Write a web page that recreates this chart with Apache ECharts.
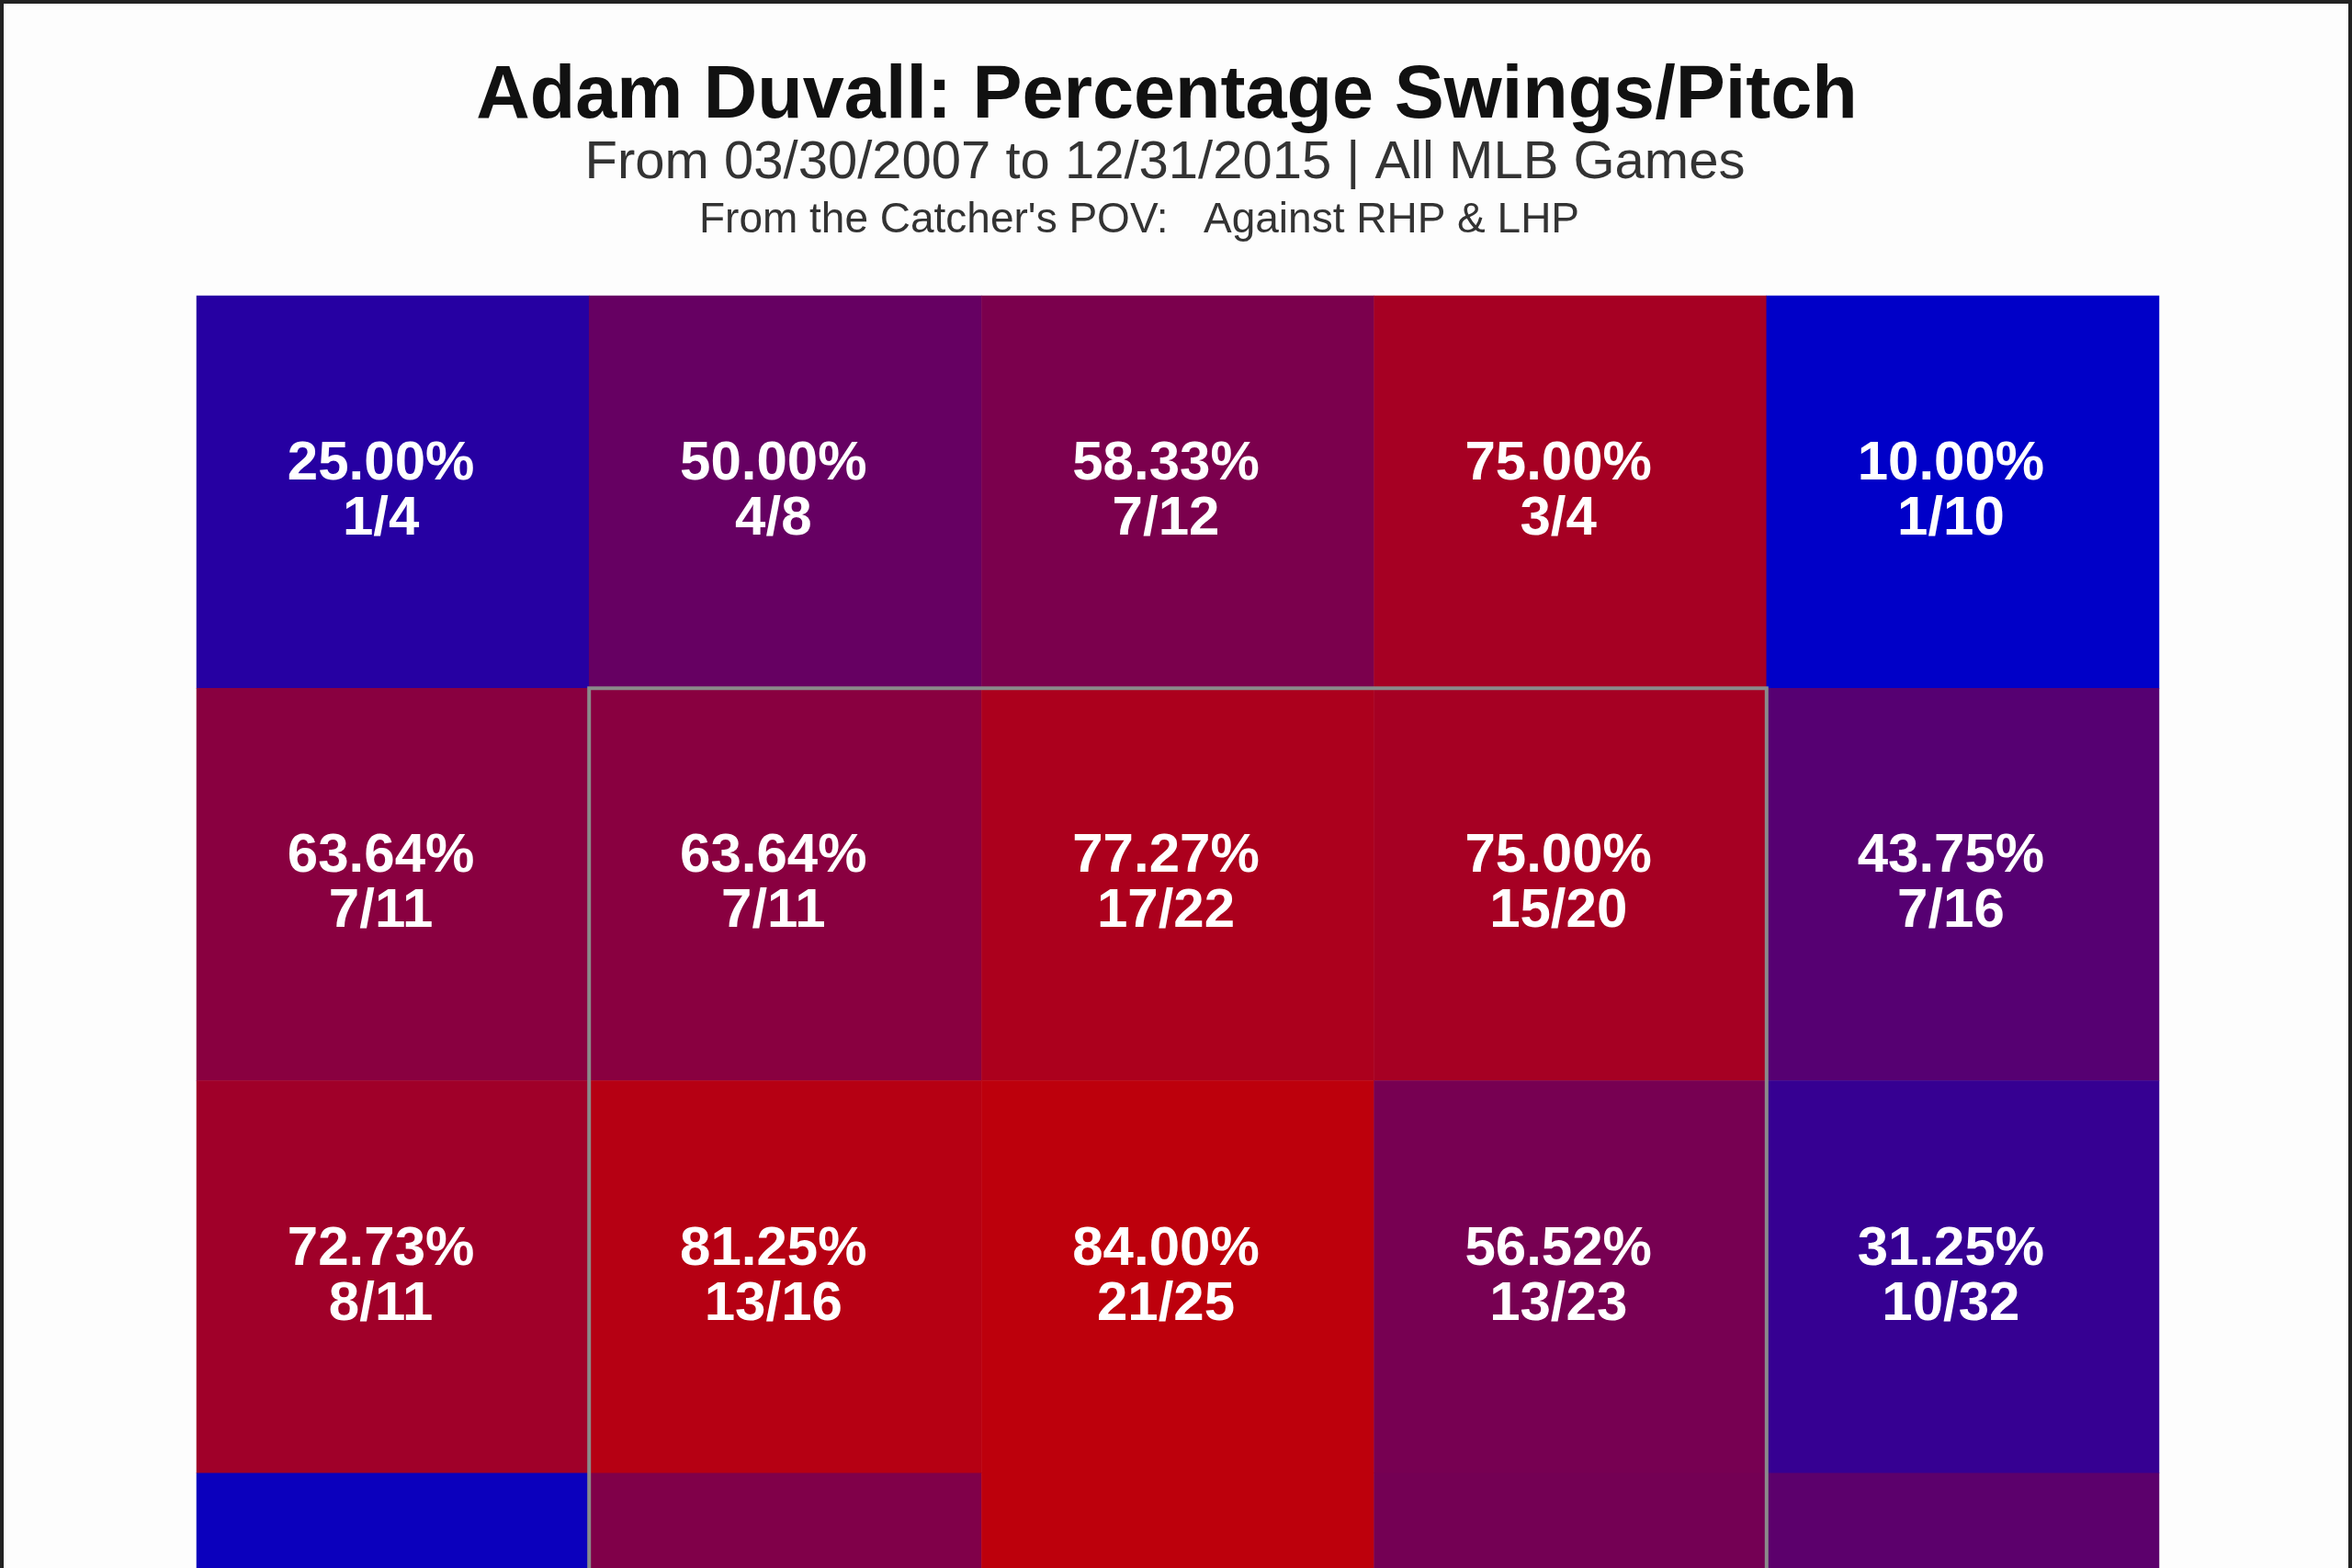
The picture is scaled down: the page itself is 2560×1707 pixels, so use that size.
<!DOCTYPE html>
<html>
<head>
<meta charset="utf-8">
<script src="https://cdn.jsdelivr.net/npm/echarts@6/dist/echarts.min.js"></script>
<style>
  html, body { margin: 0; padding: 0; background: #fdfdfd; overflow: hidden; }
  #chart { width: 2560px; height: 1707px; }
</style>
</head>
<body>
<div id="chart"></div>
<script>
// zone columns / rows, catcher's view
var cols = [ 'c1', 'c2', 'c3', 'c4', 'c5' ];
var rows = [ 'r1', 'r2', 'r3', 'r4' ];

// swings per zone (row by row, left to right)
var swings = [
  [ 1, 4, 7, 3, 1 ],
  [ 7, 7, 17, 15, 7 ],
  [ 8, 13, 21, 13, 10 ],
  [ 1, 12, 16, 10, 6 ]
];
// pitches per zone
var pitches = [
  [ 4, 8, 12, 4, 10 ],
  [ 11, 11, 22, 20, 16 ],
  [ 11, 16, 25, 23, 32 ],
  [ 7, 20, 19, 18, 13 ]
];

// strike zone: first col, first row, last col, last row
var zoneBox = [ 1, 1, 3, 3 ];

var cells = [];
rows.forEach( function( r, i ) {
  cols.forEach( function( c, j ) {
    var pct = swings[ i ][ j ] / pitches[ i ][ j ] * 100;
    cells.push( [ j, i, +pct.toFixed( 2 ), swings[ i ][ j ], pitches[ i ][ j ] ] );
  } );
} );

var myChart = echarts.init( document.getElementById( 'chart' ) );

var option = {
  backgroundColor: '#fdfdfd',
  animation: false,
  title: [
    {
      text: 'Adam Duvall: Percentage Swings/Pitch',
      left: 1265, top: 60, textAlign: 'center',
      textStyle: { fontFamily: 'Liberation Sans', fontSize: 81, fontWeight: 'bold', color: '#111' }
    },
    {
      text: 'From 03/30/2007 to 12/31/2015 | All MLB Games',
      left: 1263, top: 144, textAlign: 'center',
      textStyle: { fontFamily: 'Liberation Sans', fontSize: 58, fontWeight: 'normal', color: '#333' }
    },
    {
      text: 'From the Catcher\'s POV:   Against RHP & LHP',
      left: 1235, top: 212, textAlign: 'center',
      textStyle: { fontFamily: 'Liberation Sans', fontSize: 46, fontWeight: 'normal', color: '#333' }
    }
  ],
  grid: {
    left: 214,
    top: 322,
    width: 2136,
    height: 1709,
    outerBoundsMode: 'none',
    containLabel: false
  },
  xAxis: {
    type: 'category',
    data: cols,
    show: false
  },
  yAxis: {
    type: 'category',
    data: rows,
    inverse: true,
    show: false
  },
  visualMap: {
    show: false,
    type: 'continuous',
    dimension: 2,
    seriesIndex: 0,
    min: 10,
    max: 84,
    inRange: { color: [ '#0000c8', '#bd000c' ] }
  },
  graphic: [ {
    type: 'rect',
    z: 100,
    shape: { x: 2, y: 2, width: 2556, height: 1710 },
    style: { fill: null, stroke: '#222', lineWidth: 4 }
  } ],
  series: [
    {
      type: 'heatmap',
      data: cells,
      label: {
        show: true,
        color: '#fff',
        fontFamily: 'Liberation Sans',
        fontWeight: 'bold',
        fontSize: 60,
        lineHeight: 60,
        offset: [ -13, 0 ],
        formatter: function( p ) {
          return p.data[ 2 ].toFixed( 2 ) + '%\n' + p.data[ 3 ] + '/' + p.data[ 4 ];
        }
      },
      emphasis: { disabled: true }
    },
    {
      type: 'custom',
      silent: true,
      z: 10,
      data: [ zoneBox ],
      renderItem: function( params, api ) {
        var a = api.coord( [ api.value( 0 ), api.value( 1 ) ] );
        var b = api.coord( [ api.value( 2 ), api.value( 3 ) ] );
        var sz = api.size( [ 1, 1 ] );
        return {
          type: 'rect',
          shape: {
            x: a[ 0 ] - sz[ 0 ] / 2,
            y: a[ 1 ] - sz[ 1 ] / 2,
            width: b[ 0 ] - a[ 0 ] + sz[ 0 ],
            height: b[ 1 ] - a[ 1 ] + sz[ 1 ]
          },
          style: { fill: null, stroke: '#8a8a8a', lineWidth: 4 }
        };
      }
    }
  ]
};

myChart.setOption( option );
</script>
</body>
</html>
